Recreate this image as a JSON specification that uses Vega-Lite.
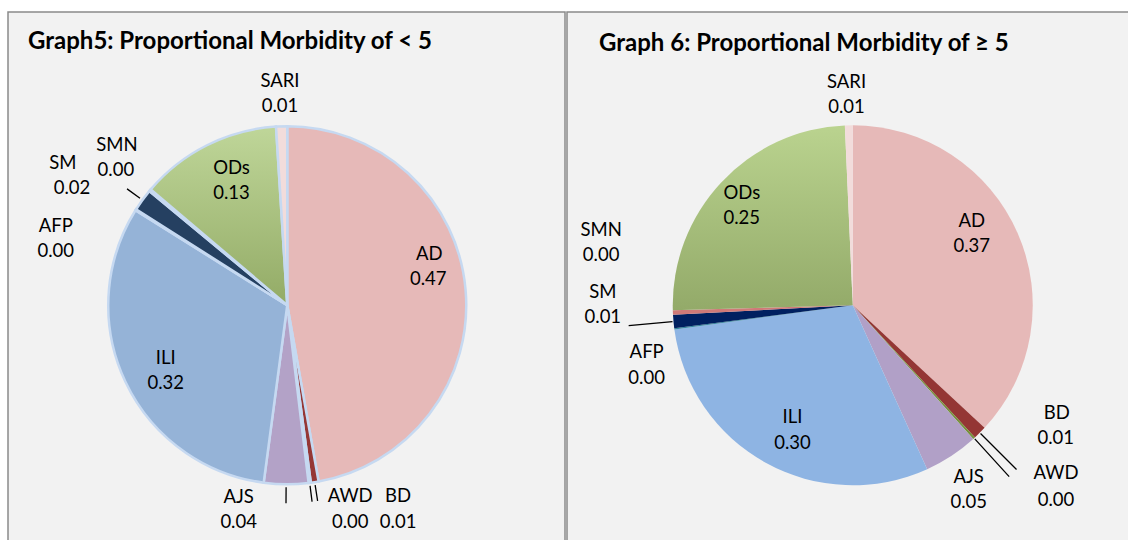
{
"$schema": "https://vega.github.io/schema/vega-lite/v6.json",
"background": "white",
"padding": {"left": 7, "top": 11, "right": -4, "bottom": -4.5},
"spacing": 0,
"config": {"view": {"stroke": null}, "text": {"font": "Lato", "fontSize": 18.5, "color": "#000000", "baseline": "middle", "align": "center"}},
"resolve": {"scale": {"color": "independent", "theta": "independent"}},
"datasets": {
"u5": [
{"cat": "AD", "value": 0.472, "ord": 1},
{"cat": "BD", "value": 0.007, "ord": 2},
{"cat": "AWD", "value": 0.002, "ord": 3},
{"cat": "AJS", "value": 0.040, "ord": 4},
{"cat": "ILI", "value": 0.318, "ord": 5},
{"cat": "AFP", "value": 0.001, "ord": 6},
{"cat": "SM", "value": 0.020, "ord": 7},
{"cat": "SMN", "value": 0.002, "ord": 8},
{"cat": "ODs", "value": 0.128, "ord": 9},
{"cat": "SARI", "value": 0.010, "ord": 10}
],
"o5": [
{"cat": "AD", "value": 0.370, "ord": 1},
{"cat": "BD", "value": 0.012, "ord": 2},
{"cat": "AWD", "value": 0.002, "ord": 3},
{"cat": "AJS", "value": 0.049, "ord": 4},
{"cat": "ILI", "value": 0.297, "ord": 5},
{"cat": "AFP", "value": 0.001, "ord": 6},
{"cat": "SM", "value": 0.012, "ord": 7},
{"cat": "SMN", "value": 0.004, "ord": 8},
{"cat": "ODs", "value": 0.248, "ord": 9},
{"cat": "SARI", "value": 0.007, "ord": 10}
]
},
"hconcat": [
{
"width": 557, "height": 532,
"title": {"text": "Graph5: Proportional Morbidity of < 5", "anchor": "start", "frame": "group", "offset": -62, "dx": 20, "font": "Lato", "fontSize": 24, "fontWeight": "bold", "color": "#000000", "baseline": "alphabetic"},
"layer": [
{"data": {"values": [{}]}, "mark": {"type": "rect", "fill": "#f2f2f2", "stroke": "#8a8a8a", "strokeWidth": 1.5}},
{"data": {"name": "u5"},
"transform": [{"stack": "value", "groupby": [], "sort": [{"field": "ord", "order": "ascending"}], "as": ["v0", "v1"]}],
"encoding": {"theta": {"field": "v0", "type": "quantitative", "scale": {"domain": [0, 1]}}},
"layer": [
{"mark": {"type": "arc", "outerRadius": 179, "stroke": "#c6d9f1", "strokeWidth": 2.5, "xOffset": 0.75, "yOffset": 27.25},
 "encoding": {"theta2": {"field": "v1"}, "color": {"condition": {"test": "datum.cat === 'ODs'", "value": {"gradient": "linear", "x1": 0, "y1": 0, "x2": 0, "y2": 1, "stops": [{"offset": 0, "color": "#bfd699"}, {"offset": 1, "color": "#93ab66"}]}}, "field": "cat", "type": "nominal", "legend": null,
  "scale": {"domain": ["AD","BD","AWD","AJS","ILI","AFP","SM","SMN","ODs","SARI"], "range": ["#e6b9b8","#953735","#77933c","#b3a2c7","#95b3d7","#4bacc6","#254061","#e46c6a","#b5cc8e","#f2dcdb"]}}}},
{"transform": [{"filter": "indexof(['SM','AJS','AWD','BD'], datum.cat) >= 0"}],
 "mark": {"type": "arc", "innerRadius": 182, "outerRadius": 198, "padAngle": 0.3, "fillOpacity": 0, "stroke": "#000000", "strokeWidth": 1.3, "xOffset": 0.75, "yOffset": 27.25},
 "encoding": {"theta2": {"field": "v1"}}},
{"transform": [{"filter": "datum.cat === 'SARI'"}], "layer": [
 {"mark": {"type": "text", "radius": 212, "dx": 6, "dy": -13, "xOffset": 0.75, "yOffset": 27.25}, "encoding": {"text": {"field": "cat", "type": "nominal"}}},
 {"mark": {"type": "text", "radius": 212, "dx": 6, "dy": 12, "xOffset": 0.75, "yOffset": 27.25}, "encoding": {"text": {"field": "value", "type": "quantitative", "format": ".2f"}}}]},
{"transform": [{"filter": "datum.cat === 'SMN'"}], "layer": [
 {"mark": {"type": "text", "radius": 225, "dx": 3, "dy": -17, "xOffset": 0.75, "yOffset": 27.25}, "encoding": {"text": {"field": "cat", "type": "nominal"}}},
 {"mark": {"type": "text", "radius": 225, "dx": 2, "dy": 8, "xOffset": 0.75, "yOffset": 27.25}, "encoding": {"text": {"field": "value", "type": "quantitative", "format": ".2f"}}}]},
{"transform": [{"filter": "datum.cat === 'SM'"}], "layer": [
 {"mark": {"type": "text", "radius": 255, "dx": -9, "dy": -6, "xOffset": 0.75, "yOffset": 27.25}, "encoding": {"text": {"field": "cat", "type": "nominal"}}},
 {"mark": {"type": "text", "radius": 255, "dx": 0, "dy": 19, "xOffset": 0.75, "yOffset": 27.25}, "encoding": {"text": {"field": "value", "type": "quantitative", "format": ".2f"}}}]},
{"transform": [{"filter": "datum.cat === 'AFP'"}], "layer": [
 {"mark": {"type": "text", "radius": 240, "dx": -28, "dy": 48, "xOffset": 0.75, "yOffset": 27.25}, "encoding": {"text": {"field": "cat", "type": "nominal"}}},
 {"mark": {"type": "text", "radius": 240, "dx": -28, "dy": 73, "xOffset": 0.75, "yOffset": 27.25}, "encoding": {"text": {"field": "value", "type": "quantitative", "format": ".2f"}}}]},
{"transform": [{"filter": "datum.cat === 'AJS'"}], "layer": [
 {"mark": {"type": "text", "radius": 205, "dx": -73, "dy": -12, "xOffset": 0.75, "yOffset": 27.25}, "encoding": {"text": {"field": "cat", "type": "nominal"}}},
 {"mark": {"type": "text", "radius": 205, "dx": -73, "dy": 13, "xOffset": 0.75, "yOffset": 27.25}, "encoding": {"text": {"field": "value", "type": "quantitative", "format": ".2f"}}}]},
{"transform": [{"filter": "datum.cat === 'AWD'"}], "layer": [
 {"mark": {"type": "text", "radius": 205, "dx": 36, "dy": -12, "xOffset": 0.75, "yOffset": 27.25}, "encoding": {"text": {"field": "cat", "type": "nominal"}}},
 {"mark": {"type": "text", "radius": 205, "dx": 36, "dy": 14, "xOffset": 0.75, "yOffset": 27.25}, "encoding": {"text": {"field": "value", "type": "quantitative", "format": ".2f"}}}]},
{"transform": [{"filter": "datum.cat === 'BD'"}], "layer": [
 {"mark": {"type": "text", "radius": 205, "dx": 75, "dy": -11, "xOffset": 0.75, "yOffset": 27.25}, "encoding": {"text": {"field": "cat", "type": "nominal"}}},
 {"mark": {"type": "text", "radius": 205, "dx": 75, "dy": 15, "xOffset": 0.75, "yOffset": 27.25}, "encoding": {"text": {"field": "value", "type": "quantitative", "format": ".2f"}}}]},
{"transform": [{"filter": "datum.cat === 'AD'"}], "layer": [
 {"mark": {"type": "text", "radius": 38, "dx": 142, "dy": -13, "xOffset": 0.75, "yOffset": 27.25}, "encoding": {"text": {"field": "cat", "type": "nominal"}}},
 {"mark": {"type": "text", "radius": 38, "dx": 141, "dy": 12, "xOffset": 0.75, "yOffset": 27.25}, "encoding": {"text": {"field": "value", "type": "quantitative", "format": ".2f"}}}]},
{"transform": [{"filter": "datum.cat === 'ILI'"}], "layer": [
 {"mark": {"type": "text", "radius": 65, "dx": -113, "dy": -12, "xOffset": 0.75, "yOffset": 27.25}, "encoding": {"text": {"field": "cat", "type": "nominal"}}},
 {"mark": {"type": "text", "radius": 65, "dx": -113, "dy": 13, "xOffset": 0.75, "yOffset": 27.25}, "encoding": {"text": {"field": "value", "type": "quantitative", "format": ".2f"}}}]},
{"transform": [{"filter": "datum.cat === 'ODs'"}], "layer": [
 {"mark": {"type": "text", "radius": 140, "dx": 51, "dy": -47, "xOffset": 0.75, "yOffset": 27.25}, "encoding": {"text": {"field": "cat", "type": "nominal"}}},
 {"mark": {"type": "text", "radius": 140, "dx": 51, "dy": -22, "xOffset": 0.75, "yOffset": 27.25}, "encoding": {"text": {"field": "value", "type": "quantitative", "format": ".2f"}}}]}
]}
]
},
{
"width": 565, "height": 532,
"title": {"text": "Graph 6: Proportional Morbidity of ≥ 5", "anchor": "start", "frame": "group", "offset": -64, "dx": 32, "font": "Lato", "fontSize": 24, "fontWeight": "bold", "color": "#000000", "baseline": "alphabetic"},
"layer": [
{"data": {"values": [{}]}, "mark": {"type": "rect", "fill": "#f2f2f2", "stroke": "#8a8a8a", "strokeWidth": 1.5}},
{"data": {"name": "o5"},
"transform": [{"stack": "value", "groupby": [], "sort": [{"field": "ord", "order": "ascending"}], "as": ["v0", "v1"]}],
"encoding": {"theta": {"field": "v0", "type": "quantitative", "scale": {"domain": [0, 1.002]}}},
"layer": [
{"mark": {"type": "arc", "outerRadius": 180, "xOffset": 3.25, "yOffset": 27.25},
 "encoding": {"theta2": {"field": "v1"}, "color": {"condition": {"test": "datum.cat === 'ODs'", "value": {"gradient": "linear", "x1": 0, "y1": 0, "x2": 0, "y2": 1, "stops": [{"offset": 0, "color": "#bad38f"}, {"offset": 1, "color": "#93aa69"}]}}, "field": "cat", "type": "nominal", "legend": null,
  "scale": {"domain": ["AD","BD","AWD","AJS","ILI","AFP","SM","SMN","ODs","SARI"], "range": ["#e6b9b8","#943634","#76923c","#b1a0c7","#8eb4e3","#31859c","#002060","#d07a78","#b5cc8e","#f2dcdb"]}}}},
{"transform": [{"filter": "datum.cat === 'SM'"}],
 "mark": {"type": "arc", "innerRadius": 181, "outerRadius": 225, "padAngle": 0.3, "fillOpacity": 0, "stroke": "#000000", "strokeWidth": 1.3, "xOffset": 3.25, "yOffset": 27.25},
 "encoding": {"theta2": {"field": "v1"}}},
{"transform": [{"filter": "indexof(['BD','AWD'], datum.cat) >= 0"}],
 "mark": {"type": "arc", "innerRadius": 181, "outerRadius": 232, "padAngle": 0.3, "fillOpacity": 0, "stroke": "#000000", "strokeWidth": 1.3, "xOffset": 3.25, "yOffset": 27.25},
 "encoding": {"theta2": {"field": "v1"}}},
{"transform": [{"filter": "datum.cat === 'SARI'"}], "layer": [
 {"mark": {"type": "text", "radius": 210, "dx": 3, "dy": -13, "xOffset": 3.25, "yOffset": 27.25}, "encoding": {"text": {"field": "cat", "type": "nominal"}}},
 {"mark": {"type": "text", "radius": 210, "dx": 3, "dy": 12, "xOffset": 3.25, "yOffset": 27.25}, "encoding": {"text": {"field": "value", "type": "quantitative", "format": ".2f"}}}]},
{"transform": [{"filter": "datum.cat === 'SMN'"}], "layer": [
 {"mark": {"type": "text", "radius": 245, "dx": -7, "dy": -88, "xOffset": 3.25, "yOffset": 27.25}, "encoding": {"text": {"field": "cat", "type": "nominal"}}},
 {"mark": {"type": "text", "radius": 245, "dx": -7, "dy": -63, "xOffset": 3.25, "yOffset": 27.25}, "encoding": {"text": {"field": "value", "type": "quantitative", "format": ".2f"}}}]},
{"transform": [{"filter": "datum.cat === 'SM'"}], "layer": [
 {"mark": {"type": "text", "radius": 250, "dx": -2, "dy": -45, "xOffset": 3.25, "yOffset": 27.25}, "encoding": {"text": {"field": "cat", "type": "nominal"}}},
 {"mark": {"type": "text", "radius": 250, "dx": -2, "dy": -20, "xOffset": 3.25, "yOffset": 27.25}, "encoding": {"text": {"field": "value", "type": "quantitative", "format": ".2f"}}}]},
{"transform": [{"filter": "datum.cat === 'AFP'"}], "layer": [
 {"mark": {"type": "text", "radius": 210, "dx": 2, "dy": 19, "xOffset": 3.25, "yOffset": 27.25}, "encoding": {"text": {"field": "cat", "type": "nominal"}}},
 {"mark": {"type": "text", "radius": 210, "dx": 2, "dy": 45, "xOffset": 3.25, "yOffset": 27.25}, "encoding": {"text": {"field": "value", "type": "quantitative", "format": ".2f"}}}]},
{"transform": [{"filter": "datum.cat === 'AJS'"}], "layer": [
 {"mark": {"type": "text", "radius": 215, "dx": -28, "dy": 12, "xOffset": 3.25, "yOffset": 27.25}, "encoding": {"text": {"field": "cat", "type": "nominal"}}},
 {"mark": {"type": "text", "radius": 215, "dx": -28, "dy": 37, "xOffset": 3.25, "yOffset": 27.25}, "encoding": {"text": {"field": "value", "type": "quantitative", "format": ".2f"}}}]},
{"transform": [{"filter": "datum.cat === 'AWD'"}], "layer": [
 {"mark": {"type": "text", "radius": 270, "dx": 20, "dy": -31, "xOffset": 3.25, "yOffset": 27.25}, "encoding": {"text": {"field": "cat", "type": "nominal"}}},
 {"mark": {"type": "text", "radius": 270, "dx": 20, "dy": -4, "xOffset": 3.25, "yOffset": 27.25}, "encoding": {"text": {"field": "value", "type": "quantitative", "format": ".2f"}}}]},
{"transform": [{"filter": "datum.cat === 'BD'"}], "layer": [
 {"mark": {"type": "text", "radius": 265, "dx": 10, "dy": -73, "xOffset": 3.25, "yOffset": 27.25}, "encoding": {"text": {"field": "cat", "type": "nominal"}}},
 {"mark": {"type": "text", "radius": 265, "dx": 9, "dy": -48, "xOffset": 3.25, "yOffset": 27.25}, "encoding": {"text": {"field": "value", "type": "quantitative", "format": ".2f"}}}]},
{"transform": [{"filter": "datum.cat === 'AD'"}], "layer": [
 {"mark": {"type": "text", "radius": 72, "dx": 119, "dy": -12, "xOffset": 3.25, "yOffset": 27.25}, "encoding": {"text": {"field": "cat", "type": "nominal"}}},
 {"mark": {"type": "text", "radius": 72, "dx": 119, "dy": 13, "xOffset": 3.25, "yOffset": 27.25}, "encoding": {"text": {"field": "value", "type": "quantitative", "format": ".2f"}}}]},
{"transform": [{"filter": "datum.cat === 'ILI'"}], "layer": [
 {"mark": {"type": "text", "radius": 125, "dx": -112, "dy": -2, "xOffset": 3.25, "yOffset": 27.25}, "encoding": {"text": {"field": "cat", "type": "nominal"}}},
 {"mark": {"type": "text", "radius": 125, "dx": -112, "dy": 24, "xOffset": 3.25, "yOffset": 27.25}, "encoding": {"text": {"field": "value", "type": "quantitative", "format": ".2f"}}}]},
{"transform": [{"filter": "datum.cat === 'ODs'"}], "layer": [
 {"mark": {"type": "text", "radius": 111, "dx": 0, "dy": -115, "xOffset": 3.25, "yOffset": 27.25}, "encoding": {"text": {"field": "cat", "type": "nominal"}}},
 {"mark": {"type": "text", "radius": 111, "dx": 0, "dy": -90, "xOffset": 3.25, "yOffset": 27.25}, "encoding": {"text": {"field": "value", "type": "quantitative", "format": ".2f"}}}]}
]}
]
}
]
}
